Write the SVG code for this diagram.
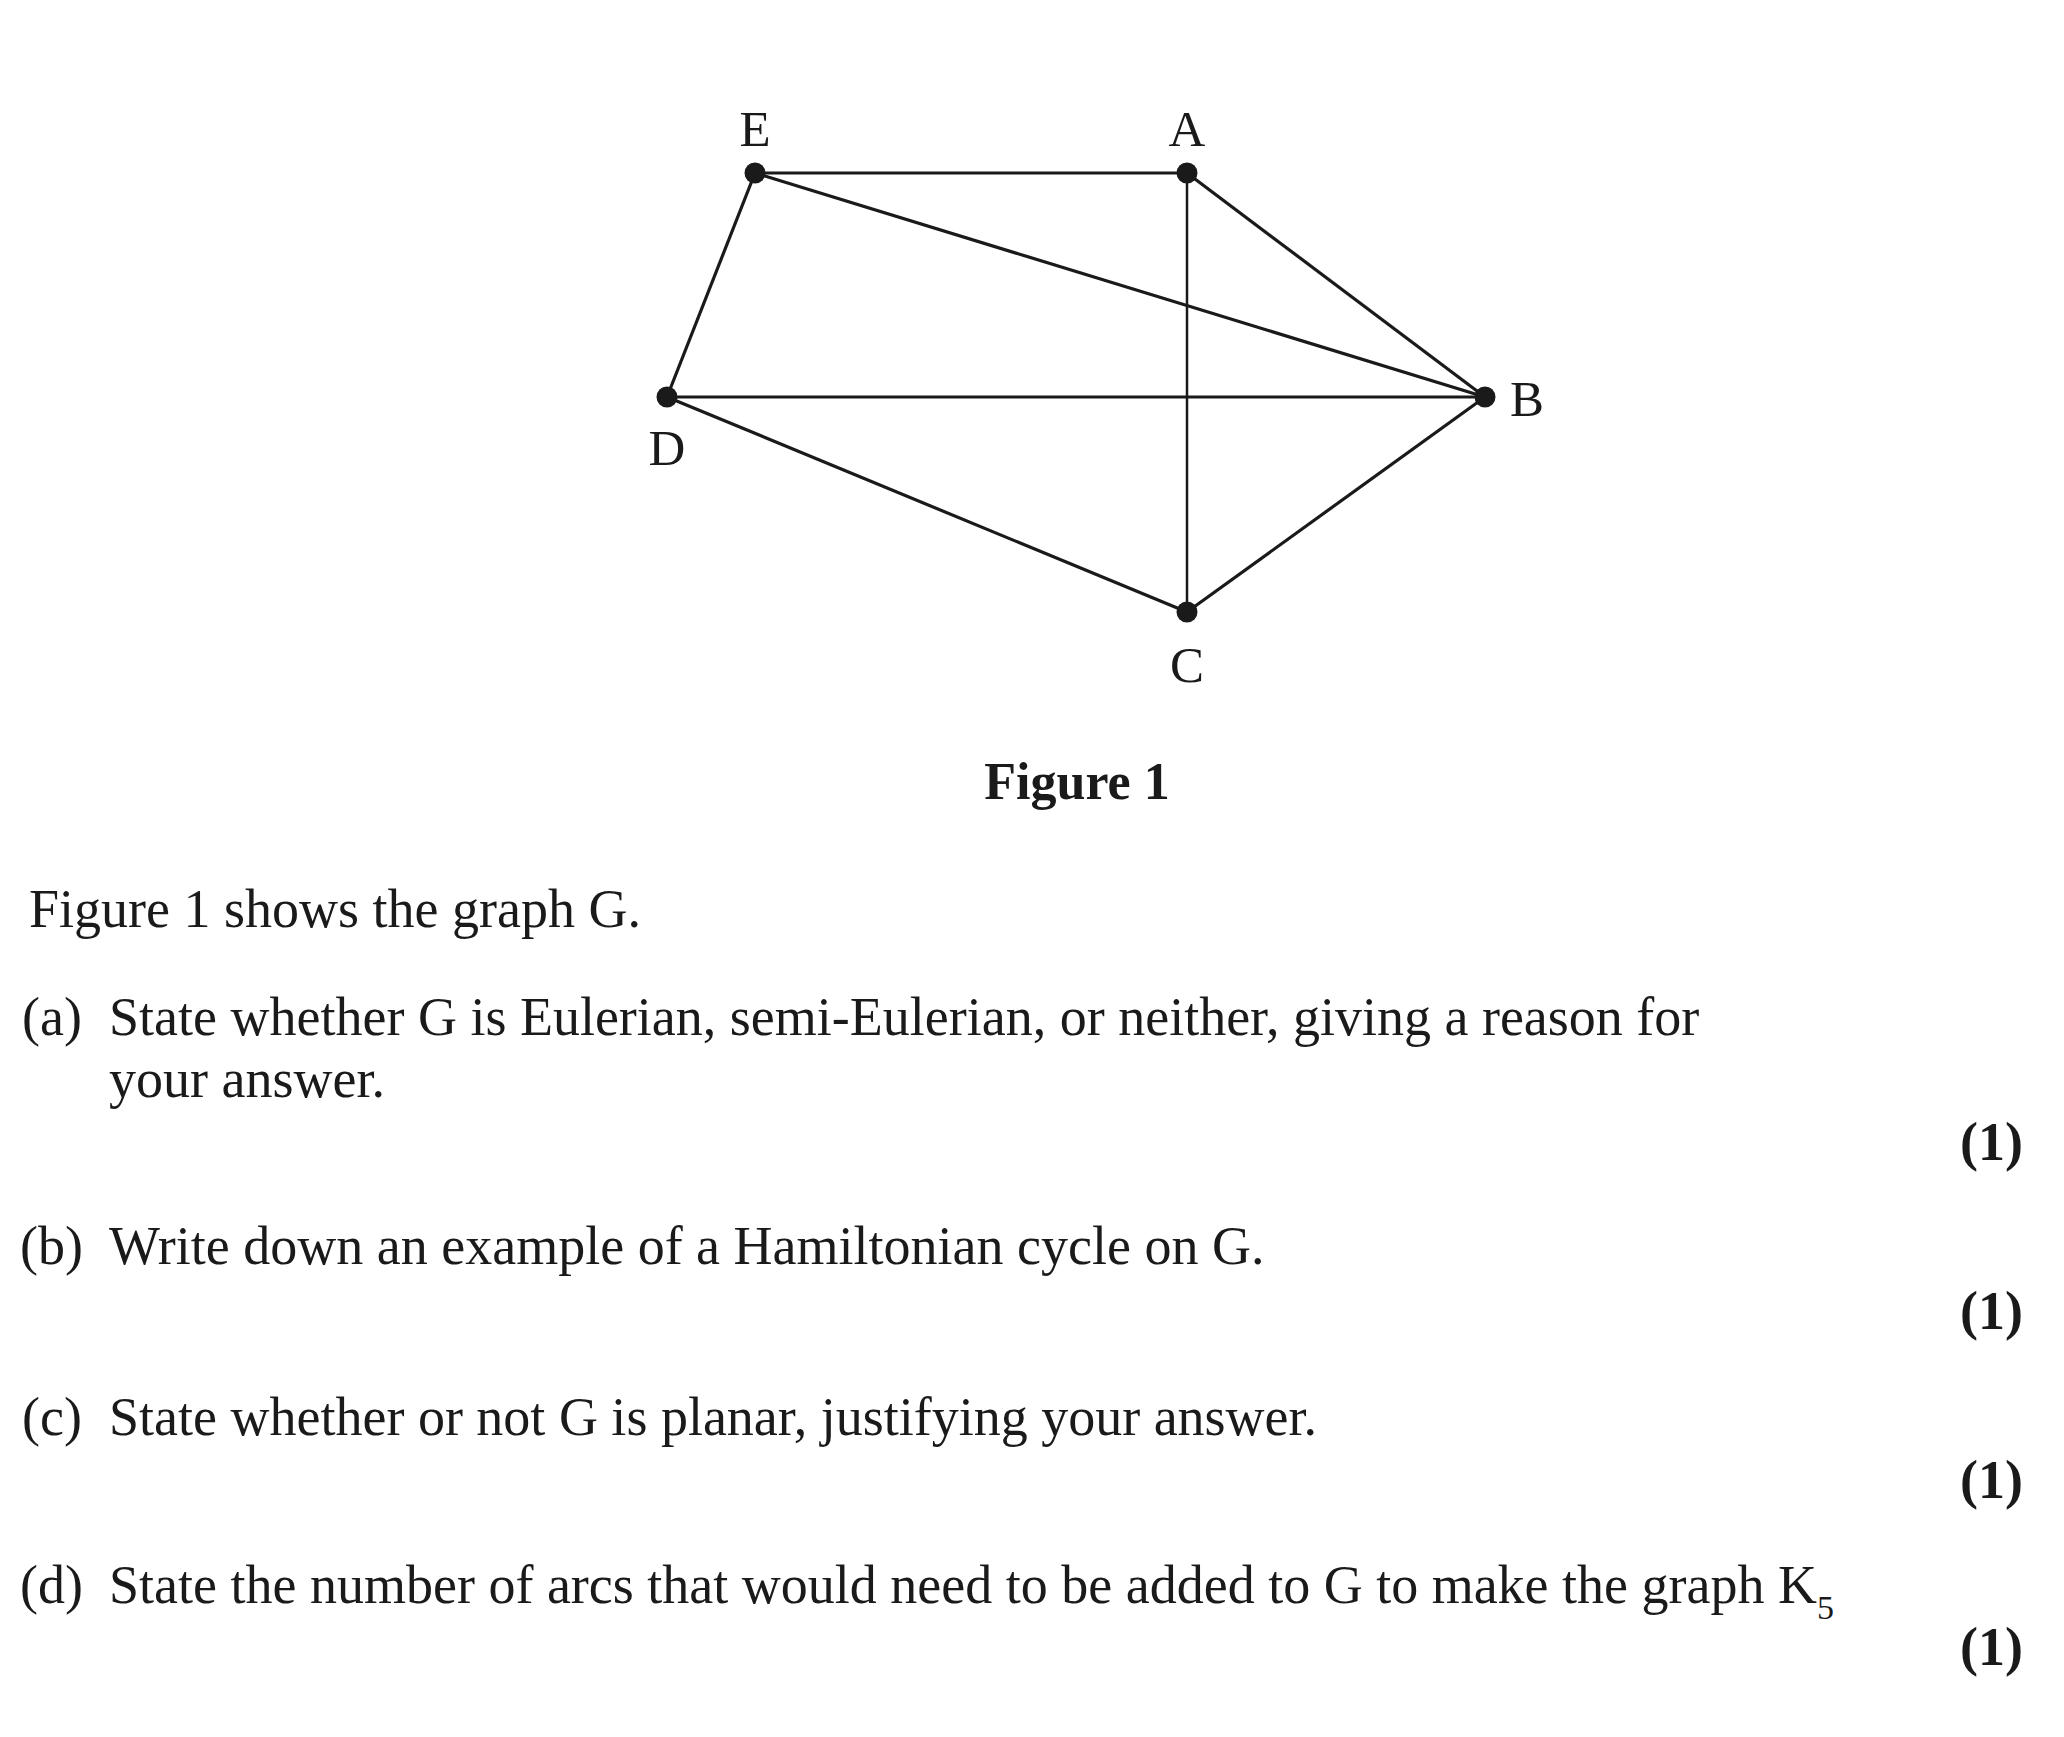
<svg xmlns="http://www.w3.org/2000/svg" width="2064" height="1737" viewBox="0 0 2064 1737">
<style>
.t{font-family:"Liberation Serif","Times New Roman",serif;font-size:54px;fill:#1a1a1a}
.lbl{font-family:"Liberation Serif","Times New Roman",serif;font-size:51px;fill:#1a1a1a;text-anchor:middle}
.b{font-family:"Liberation Serif","Times New Roman",serif;font-size:54px;font-weight:bold;fill:#1a1a1a}
.e{stroke:#1a1a1a;stroke-width:3.2;fill:none}
.dot{fill:#1a1a1a}
</style>
<rect width="2064" height="1737" fill="#ffffff"/>
<g id="connectors">
<line class="e" x1="755" y1="173" x2="1187" y2="173"/>
<line class="e" x1="755" y1="173" x2="1485" y2="397"/>
<line class="e" x1="755" y1="173" x2="667" y2="397"/>
<line class="e" x1="1187" y1="173" x2="1485" y2="397"/>
<line class="e" x1="1187" y1="173" x2="1187" y2="612" style="stroke-width:2.5"/>
<line class="e" x1="667" y1="397" x2="1485" y2="397"/>
<line class="e" x1="667" y1="397" x2="1187" y2="612"/>
<line class="e" x1="1187" y1="612" x2="1485" y2="397"/>
</g>
<g id="node-E"><circle class="dot" cx="755" cy="173" r="10.5"/><text class="lbl" x="755" y="146">E</text></g>
<g id="node-A"><circle class="dot" cx="1187" cy="173" r="10.5"/><text class="lbl" x="1187" y="146">A</text></g>
<g id="node-B"><circle class="dot" cx="1485" cy="397" r="10.5"/><text class="lbl" x="1527" y="416">B</text></g>
<g id="node-D"><circle class="dot" cx="667" cy="397" r="10.5"/><text class="lbl" x="667" y="465">D</text></g>
<g id="node-C"><circle class="dot" cx="1187" cy="612" r="10.5"/><text class="lbl" x="1187" y="682">C</text></g>
<text class="b" x="1077" y="799" text-anchor="middle" style="font-size:52px">Figure 1</text>
<text class="t" x="29" y="927">Figure 1 shows the graph G.</text>
<text class="t" x="22" y="1035">(a)</text>
<text class="t" x="109" y="1035">State whether G is Eulerian, semi-Eulerian, or neither, giving a reason for</text>
<text class="t" x="109" y="1097">your answer.</text>
<text class="b" x="2023" y="1160" text-anchor="end">(1)</text>
<text class="t" x="20" y="1264">(b)</text>
<text class="t" x="109" y="1264">Write down an example of a Hamiltonian cycle on G.</text>
<text class="b" x="2023" y="1329" text-anchor="end">(1)</text>
<text class="t" x="22" y="1435">(c)</text>
<text class="t" x="109" y="1435">State whether or not G is planar, justifying your answer.</text>
<text class="b" x="2023" y="1498" text-anchor="end">(1)</text>
<text class="t" x="20" y="1603">(d)</text>
<text class="t" x="109" y="1603">State the number of arcs that would need to be added to G to make the graph K<tspan dy="16" style="font-size:34px">5</tspan></text>
<text class="b" x="2023" y="1665" text-anchor="end">(1)</text>
</svg>
